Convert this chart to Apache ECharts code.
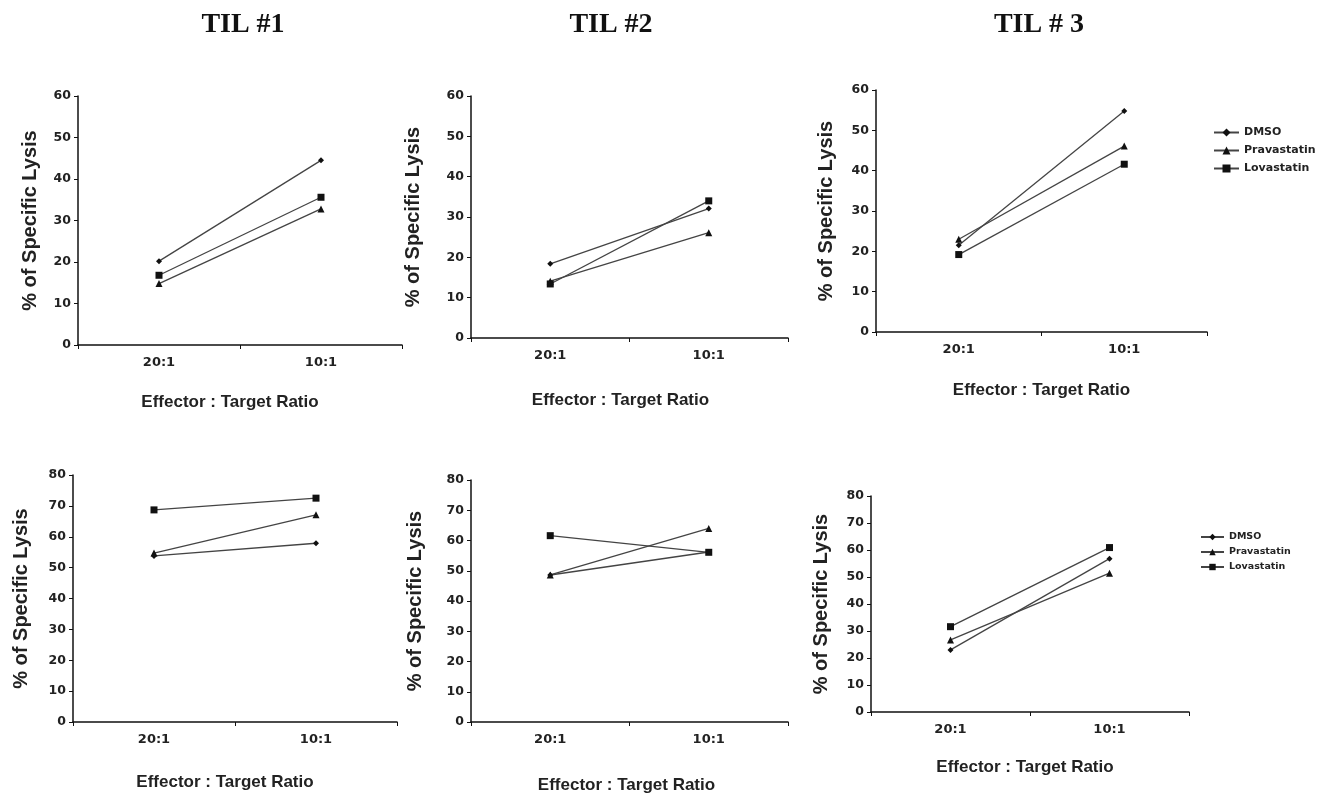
<!DOCTYPE html>
<html>
<head>
<meta charset="utf-8">
<script src="https://cdn.jsdelivr.net/npm/echarts@6/dist/echarts.min.js"></script>
<style>
  html, body { margin: 0; padding: 0; background: #fff; }
  #main { width: 1331px; height: 796px; }
</style>
</head>
<body>
<div id="main"></div>
<script>
// data
const ratios = ['20:1', '10:1'];
const treatments = ['DMSO', 'Pravastatin', 'Lovastatin'];
const panelTitles = ['TIL #1', 'TIL #2', 'TIL # 3'];

// top row
const dmsoTop1 = [20.2, 44.5];
const pravTop1 = [14.8, 32.8];
const lovaTop1 = [16.8, 35.6];

const dmsoTop2 = [18.4, 32.1];
const pravTop2 = [14.1, 26.1];
const lovaTop2 = [13.4, 34.0];

const dmsoTop3 = [21.5, 54.8];
const pravTop3 = [23.0, 46.1];
const lovaTop3 = [19.2, 41.6];

// bottom row
const dmsoBot1 = [53.8, 57.9];
const pravBot1 = [54.7, 67.1];
const lovaBot1 = [68.7, 72.5];

const dmsoBot2 = [48.6, 56.2];
const pravBot2 = [48.6, 64.0];
const lovaBot2 = [61.6, 56.1];

const dmsoBot3 = [23.0, 56.8];
const pravBot3 = [26.7, 51.4];
const lovaBot3 = [31.6, 60.9];

const topMax = 60;
const botMax = 80;

const chart = echarts.init(document.getElementById('main'));
const sans = 'Liberation Sans, Arial, sans-serif';
const wide = 'DejaVu Sans, Verdana, sans-serif';

// panel boxes: [left, top, width, height, yMax, yNameGap, xNameGap, xNameShift]
const panels = [
  [78, 96, 324, 249, topMax, 38, 49, -10],
  [471, 96, 317, 242, topMax, 48, 54, -9],
  [876, 90, 331, 242, topMax, 40, 50, 0],
  [73, 475, 324, 247, botMax, 42, 52, -10],
  [471, 480, 317, 242, botMax, 46, 55, -3],
  [871, 496, 318, 216, botMax, 40, 47, -5]
];
const panelData = [
  [dmsoTop1, pravTop1, lovaTop1],
  [dmsoTop2, pravTop2, lovaTop2],
  [dmsoTop3, pravTop3, lovaTop3],
  [dmsoBot1, pravBot1, lovaBot1],
  [dmsoBot2, pravBot2, lovaBot2],
  [dmsoBot3, pravBot3, lovaBot3]
];
const symbols = ['diamond', 'triangle', 'rect'];
const symbolSizes = [6, 7, 7];

const grid = [], xAxis = [], yAxis = [], series = [];
panels.forEach((p, i) => {
  grid.push({ left: p[0], top: p[1], width: p[2], height: p[3] });
  const shift = p[7];
  xAxis.push({
    type: 'category', gridIndex: i, data: ratios, boundaryGap: true,
    name: 'Effector : Target Ratio', nameLocation: 'middle', nameGap: p[6],
    nameTextStyle: {
      fontFamily: sans, fontWeight: 'bold', fontSize: 17, color: '#222',
      padding: shift < 0 ? [0, -2 * shift, 0, 0] : [0, 0, 0, 2 * shift]
    },
    axisLine: { lineStyle: { color: '#111', width: 1.5 } },
    axisTick: { show: true, length: 4, lineStyle: { color: '#111' } },
    axisLabel: { fontFamily: wide, fontWeight: 'bold', fontSize: 13, color: '#222', margin: 11 }
  });
  yAxis.push({
    type: 'value', gridIndex: i, min: 0, max: p[4], interval: 10,
    name: '% of Specific Lysis', nameLocation: 'middle', nameGap: p[5], nameRotate: 90,
    nameTextStyle: { fontFamily: sans, fontWeight: 'bold', fontSize: 20, color: '#222' },
    axisLine: { show: true, lineStyle: { color: '#111', width: 1.5 } },
    axisTick: { show: true, length: 4, lineStyle: { color: '#111' } },
    axisLabel: { fontFamily: wide, fontWeight: 'bold', fontSize: 12.5, color: '#222', margin: 7 },
    splitLine: { show: false }
  });
  panelData[i].forEach((vals, k) => {
    series.push({
      name: treatments[k], type: 'line', xAxisIndex: i, yAxisIndex: i,
      data: vals,
      symbol: symbols[k], symbolSize: symbolSizes[k],
      lineStyle: { color: '#444', width: 1.3 },
      itemStyle: { color: '#111' },
      silent: true, animation: false
    });
  });
});

const option = {
  backgroundColor: '#ffffff',
  title: [
    { text: panelTitles[0], left: 238, top: 6, textAlign: 'center' },
    { text: panelTitles[1], left: 606, top: 6, textAlign: 'center' },
    { text: panelTitles[2], left: 1034, top: 6, textAlign: 'center' }
  ].map(t => Object.assign(t, {
    textStyle: { fontFamily: 'Liberation Serif, Times New Roman, serif', fontWeight: 'bold', fontSize: 28, color: '#111' }
  })),
  legend: [
    {
      data: treatments, orient: 'vertical', left: 1213, top: 127, padding: 0,
      itemWidth: 25, itemHeight: 10, itemGap: 7,
      textStyle: { fontFamily: wide, fontWeight: 'bold', fontSize: 11, color: '#222' }
    },
    {
      data: treatments, orient: 'vertical', left: 1200, top: 532, padding: 0,
      itemWidth: 23, itemHeight: 8, itemGap: 5,
      textStyle: { fontFamily: wide, fontWeight: 'bold', fontSize: 9.5, color: '#222' }
    }
  ],
  grid: grid,
  xAxis: xAxis,
  yAxis: yAxis,
  series: series
};

chart.setOption(option);
</script>
</body>
</html>
